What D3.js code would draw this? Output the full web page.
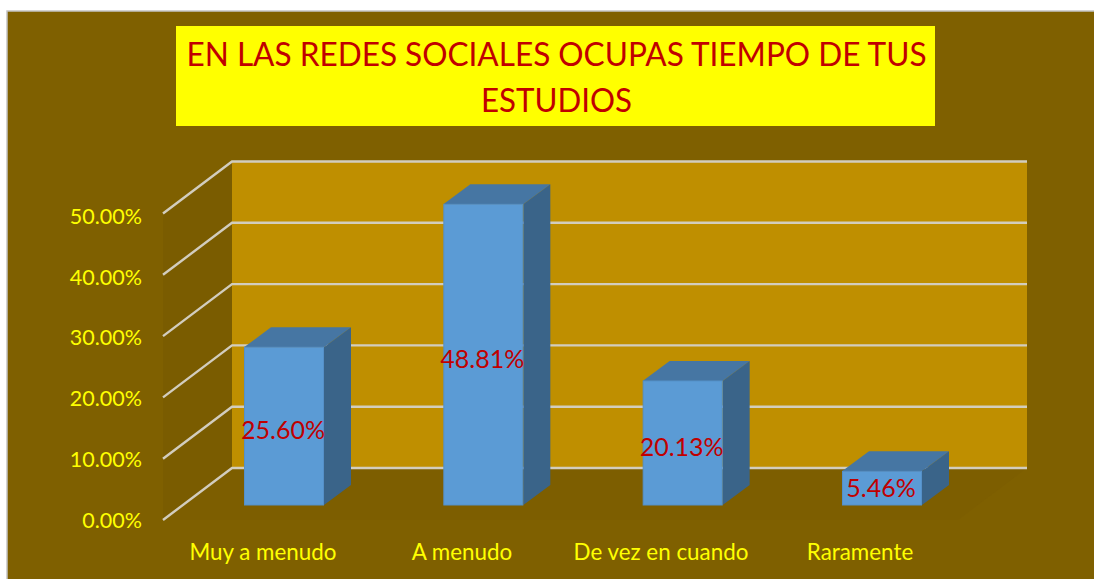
<!DOCTYPE html>
<html><head><meta charset="utf-8">
<script src="https://cdn.jsdelivr.net/npm/d3@7/dist/d3.min.js"></script>
<style>html,body{margin:0;padding:0;background:#fff;overflow:hidden}svg{display:block}text{font-family:Lato,"Open Sans",sans-serif}</style>
</head><body><svg id="c" width="1094" height="579"></svg>
<script>
const categories=["Muy a menudo","A menudo","De vez en cuando","Raramente"];
const values=[25.60,48.81,20.13,5.46];
const valueLabels=["25.60%","48.81%","20.13%","5.46%"];
const ticks=[0,10,20,30,40,50];
const titleLines=["EN LAS REDES SOCIALES OCUPAS TIEMPO DE TUS","ESTUDIOS"];

const svg=d3.select("#c");
const poly=(pts,fill,stroke)=>svg.append("polygon").attr("points",pts.map(p=>p.join(",")).join(" ")).attr("fill",fill).attr("stroke",stroke||"none");
svg.append("rect").attr("x",7).attr("y",11).attr("width",1095).attr("height",580).attr("fill","#7F6000").attr("stroke","#c4c4c4").attr("stroke-width",1.5);

// title
svg.append("rect").attr("x",176).attr("y",26).attr("width",759).attr("height",100).attr("fill","#FFFF00");
svg.selectAll(".t").data(titleLines).join("text").attr("class","t").attr("x",556.5).attr("y",(d,i)=>66+i*46)
  .attr("text-anchor","middle").attr("font-size",32).attr("fill","#C00000").attr("textLength",(d,i)=>i==0?740:151).attr("lengthAdjust","spacingAndGlyphs").text(d=>d);

// scales
const yFront=d3.scaleLinear().domain([0,50]).range([520,213.5]);
const dx=69,dy=-52;
const xc=d3.scalePoint().domain(categories).range([284,882]);
const barW=80,bdx=27,bdy=-20,barBase=505;
const h=d3.scaleLinear().domain([0,50]).range([0,308]);

// walls
poly([[163,yFront(0)],[163+dx,yFront(0)+dy],[163+dx,yFront(50)+dy],[163,yFront(50)]],"#7A5C00");
poly([[163+dx,yFront(0)+dy],[1027,yFront(0)+dy],[1027,yFront(50)+dy],[163+dx,yFront(50)+dy]],"#BF8F00");
poly([[163,yFront(0)],[163+dx,yFront(0)+dy],[1027,yFront(0)+dy],[1027-dx,yFront(0)]],"#7D5E00");

// gridlines
ticks.forEach(t=>{
  const y=yFront(t);
  svg.append("path").attr("d",`M163,${y}L${163+dx},${y+dy}L1027,${y+dy}`).attr("fill","none").attr("stroke","#D2CDBE").attr("stroke-width",2.4);
});

// tick labels
const yLabel=d3.scaleLinear().domain([0,50]).range([527.5,224]);
svg.selectAll(".yl").data(ticks).join("text").attr("class","yl").attr("x",142).attr("y",t=>yLabel(t))
  .attr("text-anchor","end").attr("font-size",21.5).attr("fill","#FFFF00").text(t=>t.toFixed(2)+"%");

// bars
categories.forEach((c,i)=>{
  const l=xc(c)-barW/2,r=l+barW,b=barBase,t=b-h(values[i]);
  poly([[l,t],[l+bdx,t+bdy],[r+bdx,t+bdy],[r,t]],"#4676A3");
  poly([[r,t],[r+bdx,t+bdy],[r+bdx,b+bdy],[r,b]],"#3A6489");
  svg.append("rect").attr("x",l+.5).attr("y",t).attr("width",barW-1).attr("height",b-t).attr("fill","#5B9BD5").attr("stroke","#5590C8").attr("stroke-width",1);
});

// labels
svg.selectAll(".vl").data(values).join("text").attr("class","vl")
  .attr("x",(d,i)=>xc(categories[i])-1)
  .attr("y",(d,i)=>barBase-h(d)/2+(i==3?9:13))
  .attr("text-anchor","middle").attr("font-size",25).attr("fill","#C00000").text((d,i)=>valueLabels[i]);

// category labels
const catX=[263,462,661,860];
svg.selectAll(".cl").data(categories).join("text").attr("class","cl").attr("x",(d,i)=>catX[i]).attr("y",560)
  .attr("text-anchor","middle").attr("font-size",22.4).attr("fill","#FFFF00").text(d=>d);
</script></body></html>
